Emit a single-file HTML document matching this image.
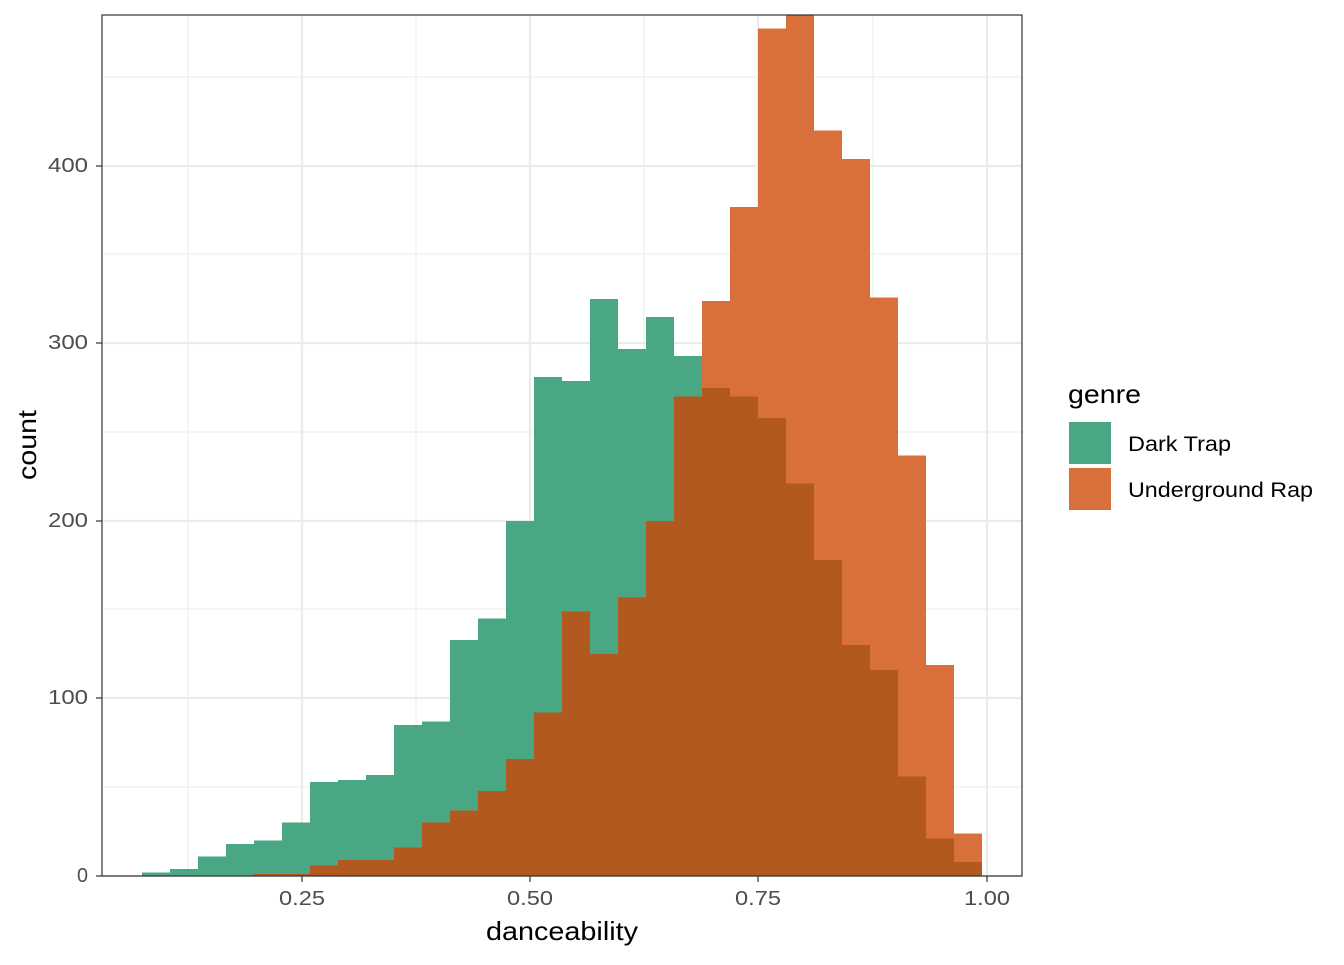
<!DOCTYPE html>
<html><head><meta charset="utf-8"><style>
html,body{margin:0;padding:0;background:#fff;}
text{font-family:"Liberation Sans",Arial,sans-serif;}
</style></head><body>
<svg width="1344" height="960" viewBox="0 0 1344 960" xmlns="http://www.w3.org/2000/svg">
<rect width="1344" height="960" fill="#fff"/>
<defs><clipPath id="c"><rect x="102" y="15" width="920" height="861"/></clipPath></defs>
<g stroke="#ebebeb" stroke-width="1">
<line x1="188" y1="15" x2="188" y2="876"/><line x1="416" y1="15" x2="416" y2="876"/><line x1="644" y1="15" x2="644" y2="876"/><line x1="873" y1="15" x2="873" y2="876"/>
<line x1="102" y1="787" x2="1022" y2="787"/><line x1="102" y1="609" x2="1022" y2="609"/><line x1="102" y1="432" x2="1022" y2="432"/><line x1="102" y1="254" x2="1022" y2="254"/><line x1="102" y1="77" x2="1022" y2="77"/>
</g>
<g stroke="#ebebeb" stroke-width="2.2">
<line x1="302" y1="15" x2="302" y2="876"/><line x1="530" y1="15" x2="530" y2="876"/><line x1="758" y1="15" x2="758" y2="876"/><line x1="987" y1="15" x2="987" y2="876"/>
<line x1="102" y1="876" x2="1022" y2="876"/><line x1="102" y1="698" x2="1022" y2="698"/><line x1="102" y1="521" x2="1022" y2="521"/><line x1="102" y1="343" x2="1022" y2="343"/><line x1="102" y1="166" x2="1022" y2="166"/>
</g>
<g clip-path="url(#c)" shape-rendering="crispEdges">
<g fill="#49a784">
<rect x="142" y="872.45" width="28" height="3.55"/>
<rect x="170" y="868.9" width="28" height="7.1"/>
<rect x="198" y="856.5" width="28" height="19.5"/>
<rect x="226" y="844" width="28" height="32"/>
<rect x="254" y="840.5" width="28" height="35.5"/>
<rect x="282" y="822.7" width="28" height="53.3"/>
<rect x="310" y="781.9" width="28" height="94.1"/>
<rect x="338" y="780.1" width="28" height="95.9"/>
<rect x="366" y="774.8" width="28" height="101.2"/>
<rect x="394" y="725.1" width="28" height="150.9"/>
<rect x="422" y="721.6" width="28" height="154.4"/>
<rect x="450" y="639.9" width="28" height="236.1"/>
<rect x="478" y="618.6" width="28" height="257.4"/>
<rect x="506" y="521" width="28" height="355"/>
<rect x="534" y="377.2" width="28" height="498.8"/>
<rect x="562" y="380.8" width="28" height="495.2"/>
<rect x="590" y="299.1" width="28" height="576.9"/>
<rect x="618" y="348.8" width="28" height="527.2"/>
<rect x="646" y="316.9" width="28" height="559.1"/>
<rect x="674" y="355.9" width="28" height="520.1"/>
</g>
<g fill="#d96f3a">
<rect x="702" y="300.9" width="28" height="575.1"/>
<rect x="730" y="206.8" width="28" height="669.2"/>
<rect x="758" y="28.3" width="28" height="847.7"/>
<rect x="786" y="10" width="28" height="866"/>
<rect x="814" y="130.5" width="28" height="745.5"/>
<rect x="842" y="158.9" width="28" height="717.1"/>
<rect x="870" y="297.3" width="28" height="578.7"/>
<rect x="898" y="455.3" width="28" height="420.7"/>
<rect x="926" y="664.8" width="28" height="211.2"/>
<rect x="954" y="833.4" width="28" height="42.6"/>
</g>
<g fill="#b2591f">
<rect x="254" y="874.2" width="28" height="1.8"/>
<rect x="282" y="874.2" width="28" height="1.8"/>
<rect x="310" y="865.3" width="28" height="10.7"/>
<rect x="338" y="860" width="28" height="16"/>
<rect x="366" y="860" width="28" height="16"/>
<rect x="394" y="847.6" width="28" height="28.4"/>
<rect x="422" y="822.7" width="28" height="53.3"/>
<rect x="450" y="810.3" width="28" height="65.7"/>
<rect x="478" y="790.8" width="28" height="85.2"/>
<rect x="506" y="758.8" width="28" height="117.2"/>
<rect x="534" y="712.7" width="28" height="163.3"/>
<rect x="562" y="611.5" width="28" height="264.5"/>
<rect x="590" y="654.1" width="28" height="221.9"/>
<rect x="618" y="597.3" width="28" height="278.7"/>
<rect x="646" y="521" width="28" height="355"/>
<rect x="674" y="396.7" width="28" height="479.3"/>
<rect x="702" y="387.9" width="28" height="488.1"/>
<rect x="730" y="396.7" width="28" height="479.3"/>
<rect x="758" y="418" width="28" height="458"/>
<rect x="786" y="483.7" width="28" height="392.3"/>
<rect x="814" y="560" width="28" height="316"/>
<rect x="842" y="645.2" width="28" height="230.8"/>
<rect x="870" y="670.1" width="28" height="205.9"/>
<rect x="898" y="776.6" width="28" height="99.4"/>
<rect x="926" y="838.7" width="28" height="37.3"/>
<rect x="954" y="861.8" width="28" height="14.2"/>
</g>
</g>
<rect x="102" y="15" width="920" height="861" fill="none" stroke="#333" stroke-width="1.2"/>
<g stroke="#333" stroke-width="1.2">
<line x1="302" y1="876" x2="302" y2="882"/><line x1="530" y1="876" x2="530" y2="882"/><line x1="758" y1="876" x2="758" y2="882"/><line x1="987" y1="876" x2="987" y2="882"/>
<line x1="96" y1="876" x2="102" y2="876"/><line x1="96" y1="698" x2="102" y2="698"/><line x1="96" y1="521" x2="102" y2="521"/><line x1="96" y1="343" x2="102" y2="343"/><line x1="96" y1="166" x2="102" y2="166"/>
</g>
<g fill="#4d4d4d" font-size="20">
<text x="279" y="905" textLength="46" lengthAdjust="spacingAndGlyphs">0.25</text><text x="507" y="905" textLength="46" lengthAdjust="spacingAndGlyphs">0.50</text><text x="735" y="905" textLength="46" lengthAdjust="spacingAndGlyphs">0.75</text><text x="964" y="905" textLength="46" lengthAdjust="spacingAndGlyphs">1.00</text>
<text x="77" y="882" textLength="11" lengthAdjust="spacingAndGlyphs">0</text><text x="48" y="704" textLength="40" lengthAdjust="spacingAndGlyphs">100</text><text x="48" y="527" textLength="40" lengthAdjust="spacingAndGlyphs">200</text><text x="48" y="349" textLength="40" lengthAdjust="spacingAndGlyphs">300</text><text x="48" y="172" textLength="40" lengthAdjust="spacingAndGlyphs">400</text>
</g>
<text x="486" y="940" font-size="26" textLength="152" lengthAdjust="spacingAndGlyphs" fill="#000">danceability</text>
<text transform="translate(36,480) rotate(-90)" font-size="26" textLength="70" lengthAdjust="spacingAndGlyphs" fill="#000">count</text>
<text x="1068" y="403" font-size="26" textLength="73" lengthAdjust="spacingAndGlyphs" fill="#000">genre</text>
<rect x="1069" y="422" width="42" height="42" fill="#49a784"/>
<rect x="1069" y="468" width="42" height="42" fill="#d96f3a"/>
<text x="1128" y="451" font-size="21" textLength="103" lengthAdjust="spacingAndGlyphs" fill="#000">Dark Trap</text>
<text x="1128" y="497" font-size="21" textLength="185" lengthAdjust="spacingAndGlyphs" fill="#000">Underground Rap</text>
</svg>
</body></html>
